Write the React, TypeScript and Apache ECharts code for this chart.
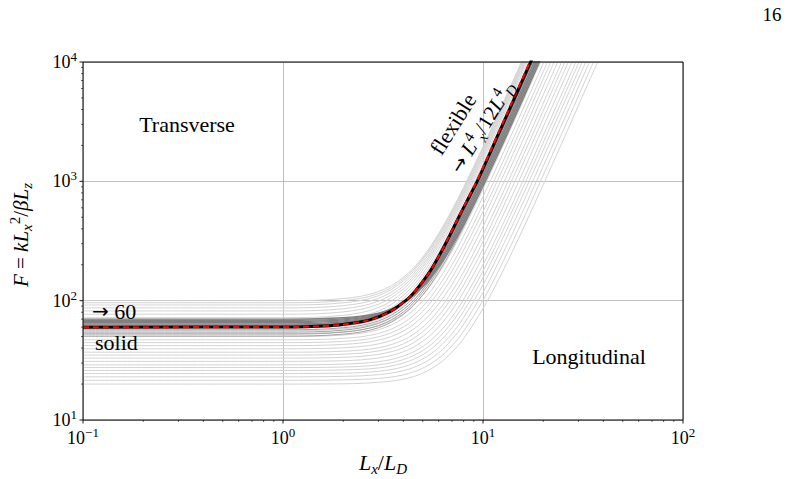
import React, { useEffect, useRef } from "react";
import * as echarts from "echarts";

const SERIF = "Liberation Serif";
const ARROW_FONT = "DejaVu Sans";

// common abscissae (L_x / L_D) for the curve family
const X_GRID = [0.1, 1, 2, 3, 4, 5, 6, 7, 8, 10, 12, 15, 18, 22, 27, 33, 40];

// light grey family (F values at X_GRID)
const light100 = [100, 100, 104.1, 119, 157, 232, 365, 576, 891, 1946, 3792, 8712, 17230];
const light96 = [96, 96, 100, 114.5, 151.4, 225.3, 354.6, 560, 868, 1897, 3699, 8500, 16900];
const light92 = [92, 92, 95.9, 110.1, 146.1, 218.2, 344.3, 544.7, 845, 1850, 3607, 8292, 16500];
const light87 = [87, 87, 90.8, 104.5, 139.2, 208.8, 330.5, 524, 814, 1783, 3480, 8001, 15920];
const light82 = [82, 82, 85.6, 98.9, 132.4, 199.6, 317, 504, 784, 1720, 3358, 7723, 15370];
const light77 = [77, 77, 80.5, 93.3, 125.6, 190.4, 303.8, 484, 754, 1657, 3237, 7447, 14820];
const light72 = [72, 72, 75.3, 87.5, 118.4, 180.2, 288.5, 460.4, 718, 1580, 3088, 7107, 14150];
const light67 = [67, 67, 70.2, 81.7, 110.8, 169.2, 271.5, 433.9, 677, 1491, 2916, 6712, 13360];
const light63 = [63, 63, 65.9, 76.7, 104, 158.6, 254.2, 406, 633.6, 1395, 2726, 6276, 12490];
const light59 = [59, 59, 61.3, 69.9, 91.6, 135.1, 211.3, 332.2, 513.5, 1120, 2180, 5007, 9959, 21280];
const light56 = [56, 56, 58.1, 65.6, 84.6, 122.6, 189.2, 295, 453.7, 984, 1912, 4386, 8715, 18620];
const light53 = [53, 53, 54.8, 61.3, 77.8, 110.9, 168.7, 260.7, 398.5, 859, 1665, 3815, 7575, 16170];
const light50 = [50, 50, 51.5, 57.1, 71.3, 99.8, 149.5, 228.6, 347.2, 743, 1437, 3286, 6521, 13920];
const light47 = [47, 47, 48.3, 53.1, 65.2, 89.5, 132, 199.5, 300.7, 639, 1231, 2809, 5571, 11890];
const light44 = [44.5, 44.5, 45.6, 49.8, 60.3, 81.4, 118.3, 176.9, 264.8, 558.5, 1072, 2443, 4841, 10320];
const light42 = [42, 42, 43, 46.6, 55.6, 73.8, 105.6, 156.1, 231.8, 485, 928, 2109, 4176, 8901, 19330];
const light39 = [39.5, 39.5, 40.3, 43.4, 51.1, 66.7, 93.8, 137, 201.7, 418, 796, 1805, 3571, 7607, 16520];
const light37 = [37, 37, 37.7, 40.3, 46.8, 60, 82.9, 119.4, 174.1, 357, 677, 1530, 3023, 6437, 13980];
const light35 = [35, 35, 35.6, 37.9, 43.5, 54.9, 74.8, 106.5, 153.9, 312.4, 589.8, 1329, 2624, 5583, 12120];
const light33 = [33, 33, 33.5, 35.5, 40.3, 50.1, 67.2, 94.4, 135.2, 271.4, 509.9, 1146, 2258, 4802, 10410];
const light31 = [31, 31, 31.4, 33.1, 37.3, 45.6, 60.2, 83.4, 118.1, 234.2, 437.4, 979, 1928, 4095, 8881, 19080];
const light29 = [29, 29, 29.4, 30.8, 34.3, 41.3, 53.6, 73.1, 102.4, 200.2, 371.3, 828, 1627, 3452, 7484, 16080];
const light27 = [27.5, 27.5, 27.8, 29, 32.1, 38.2, 48.9, 66, 91.5, 176.8, 326.1, 724, 1421, 3013, 6530, 14030];
const light26 = [26, 26, 26.3, 27.3, 30, 35.3, 44.6, 59.3, 81.4, 155.4, 284.8, 629.7, 1233, 2614, 5660, 12160];
const light24 = [24.5, 24.5, 24.7, 25.6, 27.9, 32.5, 40.4, 53.1, 72.1, 135.5, 246.5, 542.5, 1060, 2245, 4859, 10430];
const light23 = [23, 23, 23.2, 24, 25.9, 29.8, 36.5, 47.3, 63.4, 117.3, 211.6, 463.2, 903, 1909, 4131, 8869, 18320];
const light21 = [21.5, 21.5, 21.7, 22.3, 23.9, 27.2, 32.9, 41.9, 55.5, 100.8, 180.1, 391.7, 761.8, 1608, 3476, 7456, 15410];
const light20 = [20, 20, 20.1, 20.7, 22, 24.7, 29.5, 37, 48.2, 85.9, 151.8, 327.6, 635.2, 1338, 2891, 6200, 12810];

// mid grey curves just under the reference curve
const mid57 = [57, 57, 59.3, 67.6, 88.6, 130.7, 204.4, 321.6, 497.2, 1084, 2111, 4851, 9642, 20600];
const mid54 = [54.5, 54.5, 56.6, 64.5, 84.2, 123.8, 193.1, 303.1, 468, 1019.5, 1984.5, 4558.5, 9062.5, 19350];
const mid52 = [52.5, 52.5, 54.5, 61.9, 80.4, 117.7, 182.8, 286.4, 441.5, 960.3, 1868, 4288.5, 8524.5, 18210];
const mid50 = [50.5, 50.5, 52.4, 59.3, 76.8, 111.9, 173.3, 270.9, 417.1, 905.9, 1761.5, 4042.5, 8033.5, 17160];

// dark grey band
const dark62 = [62.5, 62.5, 65, 74.3, 97.6, 144.4, 226.4, 356.7, 551.8, 1204, 2346, 5391, 10720];
const dark64 = [64, 64, 66.4, 75, 97, 140.9, 217.8, 340.1, 523.2, 1136, 2207, 5064, 10064, 21430];
const dark65 = [65.5, 65.5, 67.7, 75.9, 96.4, 137.7, 209.9, 324.6, 496.5, 1071.5, 2077.5, 4760, 9452, 20190];
const dark67 = [67, 67, 69.1, 76.8, 96.1, 134.9, 202.8, 310.7, 472.5, 1013, 1959, 4482, 8897, 18990];
const dark68 = [68.5, 68.5, 70.5, 77.7, 95.9, 132.4, 196.2, 297.7, 449.8, 958.3, 1848, 4221, 8374, 17870];
const dark70 = [70, 70, 71.9, 78.6, 95.8, 130.2, 190.3, 286, 429.2, 908.3, 1746, 3982, 7894, 16830];

// black reference curve and red dashed curve
const blackX = [0.1, 1, 1.72, 2.16, 2.72, 3.43, 4.0, 4.32, 4.84, 5.43, 6.1, 6.84, 7.67, 8.61, 9.47, 12, 15, 17.3, 18.5];
const blackF = [60, 60.1, 61.7, 64.3, 69, 81, 97, 108, 135, 176, 246, 356, 525, 765, 1045, 2534, 5836, 10000, 12830];
const redX = [0.1, 1, 1.72, 2.16, 2.72, 3.43, 4.0, 4.32, 4.84, 5.43, 6.1, 6.84, 7.67, 8.61, 9.47, 12, 15, 17.3, 18.5];
const redF = [60, 60.1, 61.7, 64.3, 69, 81, 97, 108, 135, 176, 246, 358, 530, 775, 1070, 2600, 6050, 10350, 13300];

const LIGHT = [light100, light96, light92, light87, light82, light77, light72, light67, light63, light59,
  light56, light53, light50, light47, light44, light42, light39, light37, light35, light33,
  light31, light29, light27, light26, light24, light23, light21, light20];
const MID = [mid57, mid54, mid52, mid50];
const DARK = [dark62, dark64, dark65, dark67, dark68, dark70];

const X_MIN = 0.1, X_MAX = 100, Y_MIN = 10, Y_MAX = 10000;
const X_DECADES = [0.1, 1, 10, 100];
const Y_DECADES = [10, 100, 1000, 10000];
const MINOR_MULT = [2, 3, 4, 5, 6, 7, 8, 9];

const SMOOTH = 0.35;

function lineSeries(points: number[][], color: string, width: number, z: number, type: any = "solid") {
  return {
    type: "line",
    data: points,
    showSymbol: false,
    symbol: "none",
    smooth: SMOOTH,
    silent: true,
    lineStyle: { color, width, type },
    z,
  };
}

const labelFmt = (v: number) => {
  const e = Math.round(Math.log10(v));
  return "{b|10}{s|" + (e < 0 ? "\u2212" + -e : String(e)) + "}";
};
const labelRich = {
  b: { fontSize: 18, fontFamily: SERIF, color: "#000", lineHeight: 24 },
  s: { fontSize: 13, fontFamily: SERIF, color: "#000", lineHeight: 13, verticalAlign: "top" },
};

const mathRich = (size: number) => {
  const small = Math.round(size * 0.7);
  return {
    i: { fontSize: size, fontStyle: "italic", fontFamily: SERIF, color: "#000", lineHeight: size + 6 },
    n: { fontSize: size, fontFamily: SERIF, color: "#000", lineHeight: size + 6 },
    a: { fontSize: size - 2, fontFamily: ARROW_FONT, color: "#000", lineHeight: size + 6 },
    sb: { fontSize: small, fontStyle: "italic", fontFamily: SERIF, color: "#000", lineHeight: small, verticalAlign: "bottom" },
    sp: { fontSize: small, fontFamily: SERIF, color: "#000", lineHeight: small, verticalAlign: "top" },
  };
};

export default function App() {
  const ref = useRef<HTMLDivElement>(null);
  useEffect(() => {
    if (!ref.current) return;
    const chart = echarts.init(ref.current, undefined, { renderer: "svg" });
    const onGrid = (vals: number[]) => vals.map((v, i) => [X_GRID[i], v]);
    const series: any[] = [];
    LIGHT.forEach((c) => series.push(lineSeries(onGrid(c), "#d3d3d3", 1, 2)));
    MID.forEach((c) => series.push(lineSeries(onGrid(c), "#a0a0a0", 1, 2)));
    DARK.forEach((c) => series.push(lineSeries(onGrid(c), "#808080", 1.3, 2)));
    series.push(lineSeries(blackX.map((x, i) => [x, blackF[i]]), "#000", 3, 3));
    series.push(lineSeries(redX.map((x, i) => [x, redF[i]]), "#ff0000", 2, 4, [6, 4]));

    chart.setOption({
      animation: false,
      backgroundColor: "#fff",
      grid: { left: 83, right: 105, top: 62, bottom: 59, containLabel: false },
      xAxis: {
        type: "log", logBase: 10, min: X_MIN, max: X_MAX,
        axisLine: { show: false }, axisTick: { show: false },
        splitLine: { show: true, lineStyle: { color: "#b0b0b0", width: 0.8 } },
        axisLabel: { formatter: labelFmt, rich: labelRich, margin: 6 },
      },
      yAxis: {
        type: "log", logBase: 10, min: Y_MIN, max: Y_MAX,
        axisLine: { show: false }, axisTick: { show: false },
        splitLine: { show: true, lineStyle: { color: "#b0b0b0", width: 0.8 } },
        axisLabel: { formatter: labelFmt, rich: labelRich, margin: 6 },
      },
      series,
    });

    const px = (x: number, y: number) => chart.convertToPixel({ gridIndex: 0 }, [x, y]) as number[];
    const tl = px(X_MIN, Y_MAX);
    const br = px(X_MAX, Y_MIN);
    const g: any[] = [];
    g.push({
      type: "rect", z: 100, silent: true,
      shape: { x: tl[0], y: tl[1], width: br[0] - tl[0], height: br[1] - tl[1] },
      style: { fill: "none", stroke: "#000", lineWidth: 1 },
    });
    const tick = (x1: number, y1: number, x2: number, y2: number, w: number) =>
      g.push({ type: "line", z: 100, silent: true, shape: { x1, y1, x2, y2 }, style: { stroke: "#000", lineWidth: w } });
    X_DECADES.forEach((d, k) => {
      const p = px(d, Y_MIN);
      tick(p[0], br[1], p[0], br[1] + 3.5, 0.9);
      if (k < X_DECADES.length - 1)
        MINOR_MULT.forEach((m) => { const q = px(d * m, Y_MIN); tick(q[0], br[1], q[0], br[1] + 2, 0.6); });
    });
    Y_DECADES.forEach((d, k) => {
      const p = px(X_MIN, d);
      tick(tl[0], p[1], tl[0] - 3.5, p[1], 0.9);
      if (k < Y_DECADES.length - 1)
        MINOR_MULT.forEach((m) => { const q = px(X_MIN, d * m); tick(tl[0], q[1], tl[0] - 2, q[1], 0.6); });
    });

    const text = (x: number, y: number, t: string, size: number, opts: any = {}) =>
      g.push({
        type: "text", z: 101, silent: true, x, y, rotation: opts.rotation || 0,
        style: {
          text: t, fill: "#000", fontSize: size, fontFamily: SERIF,
          align: opts.align || "center", verticalAlign: "middle", rich: mathRich(size),
        },
      });

    text(772, 14, "16", 19);
    text(187, 124, "Transverse", 22);
    text(589, 356, "Longitudinal", 22);
    text(92, 311, "{a|\u2192}{n| 60}", 22, { align: "left" });
    text(95, 342, "solid", 22, { align: "left" });
    text(383, 462, "{i|L}{sb|x}{n|/}{i|L}{sb|D}", 22);
    text(21, 235, "{i|F}{n| = }{i|kL}{sb|x}{sp|2}{n|/}{i|\u03b2L}{sb|z}", 21, { rotation: Math.PI / 2 });
    const ang = (58 * Math.PI) / 180;
    text(453, 124, "flexible", 22, { rotation: ang });
    text(482, 127, "{a|\u2192}{n| }{i|L}{sp|4}{sb|x}{n|/12}{i|L}{sp|4}{sb|D}", 21, { rotation: ang });

    chart.setOption({ graphic: g });
    return () => chart.dispose();
  }, []);
  return <div ref={ref} style={{ position: "absolute", left: 0, top: 0, width: 788, height: 479 }} />;
}
